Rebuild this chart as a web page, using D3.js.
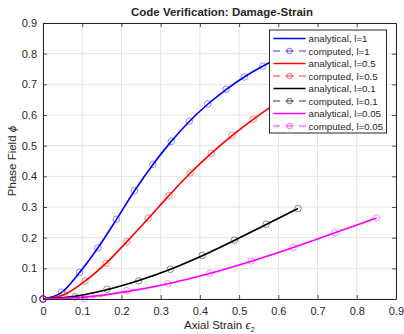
<!DOCTYPE html>
<html>
<head>
<meta charset="utf-8">
<script src="https://cdn.jsdelivr.net/npm/d3@7"></script>
<style>
    body { margin: 0; background: #fff; }
    text { font-family: "Liberation Sans", Arial, sans-serif; fill: #262626; }
</style>
</head>
<body>
<div id="chart"></div>
<script>
// strain (x) and phase field (y) for each length scale l
var strainL1 = [0, 0.047, 0.093, 0.14, 0.187, 0.233, 0.28, 0.327, 0.373, 0.42, 0.467, 0.513, 0.56, 0.607, 0.653, 0.7];
var computedL1 = [0, 0.022, 0.087, 0.166, 0.26, 0.353, 0.439, 0.514, 0.58, 0.636, 0.684, 0.724, 0.759, 0.79, 0.815, 0.84];
var analyticalL1 = [0, 0.021, 0.086, 0.167, 0.259, 0.352, 0.438, 0.514, 0.579, 0.635, 0.683, 0.724, 0.759, 0.79, 0.815, 0.84];

var strainL05 = [0, 0.054, 0.107, 0.161, 0.214, 0.268, 0.321, 0.375, 0.429, 0.482, 0.536, 0.589, 0.643, 0.696, 0.75];
var computedL05 = [0, 0.015, 0.059, 0.116, 0.187, 0.263, 0.337, 0.411, 0.475, 0.534, 0.586, 0.635, 0.68, 0.72, 0.755];
var analyticalL05 = [0, 0.014, 0.058, 0.117, 0.187, 0.262, 0.337, 0.41, 0.475, 0.533, 0.586, 0.634, 0.679, 0.719, 0.755];

var strainL01 = [0, 0.081, 0.163, 0.244, 0.325, 0.406, 0.488, 0.569, 0.65];
var computedL01 = [0, 0.007, 0.032, 0.059, 0.097, 0.142, 0.192, 0.244, 0.295];
var analyticalL01 = [0, 0.009, 0.03, 0.06, 0.097, 0.141, 0.191, 0.243, 0.295];

var strainL005 = [0, 0.106, 0.213, 0.319, 0.425, 0.531, 0.638, 0.744, 0.85];
var computedL005 = [0, 0.002, 0.027, 0.05, 0.084, 0.124, 0.168, 0.216, 0.264];
var analyticalL005 = [0, 0.006, 0.024, 0.05, 0.083, 0.123, 0.168, 0.216, 0.264];

var lengthScales = ["1", "0.5", "0.1", "0.05"];
var colors = ["#0000ff", "#ff0000", "#000000", "#ff00ff"];
var xTicks = [0, 0.1, 0.2, 0.3, 0.4, 0.5, 0.6, 0.7, 0.8, 0.9];
var yTicks = [0, 0.1, 0.2, 0.3, 0.4, 0.5, 0.6, 0.7, 0.8, 0.9];

var width = 404, height = 334;
var margin = {left: 43, right: 8, top: 23, bottom: 35};

var svg = d3.select("#chart").append("svg")
    .attr("width", width).attr("height", height);

var x = d3.scaleLinear().domain([0, 0.9]).range([margin.left, width - margin.right]);
var y = d3.scaleLinear().domain([0, 0.9]).range([height - margin.bottom, margin.top]);

// grid
svg.append("g").selectAll("line").data(xTicks).enter().append("line")
    .attr("x1", d => x(d)).attr("x2", d => x(d))
    .attr("y1", y(0)).attr("y2", y(0.9))
    .attr("stroke", "#e3e3e3").attr("stroke-width", 1);
svg.append("g").selectAll("line").data(yTicks).enter().append("line")
    .attr("y1", d => y(d)).attr("y2", d => y(d))
    .attr("x1", x(0)).attr("x2", x(0.9))
    .attr("stroke", "#e3e3e3").attr("stroke-width", 1);

var plot = svg.append("g");
var line = d3.line().x(d => x(d[0])).y(d => y(d[1])).curve(d3.curveMonotoneX);

var series = [
    {s: strainL1, a: analyticalL1, c: computedL1},
    {s: strainL05, a: analyticalL05, c: computedL05},
    {s: strainL01, a: analyticalL01, c: computedL01},
    {s: strainL005, a: analyticalL005, c: computedL005}
];

series.forEach(function (d, i) {
    plot.append("path")
        .datum(d.s.map((v, k) => [v, d.a[k]]))
        .attr("d", line)
        .attr("fill", "none").attr("stroke", colors[i]).attr("stroke-width", 1.6);
    var pts = d.s.map((v, k) => [v, d.c[k]]);
    plot.append("path")
        .datum(pts)
        .attr("d", line)
        .attr("fill", "none").attr("stroke", colors[i]).attr("stroke-width", 0.6)
        .attr("stroke-dasharray", "5,3");
    plot.append("g").selectAll("circle").data(pts).enter().append("circle")
        .attr("cx", p => x(p[0])).attr("cy", p => y(p[1])).attr("r", 3.3)
        .attr("fill", "none").attr("stroke", colors[i]).attr("stroke-width", 0.6)
        .attr("stroke-opacity", 0.75);
});

// axes (matlab style box, ticks inward)
var axisColor = "#262626";
var xAxis = d3.axisBottom(x).tickValues(xTicks).tickSizeInner(-4).tickSizeOuter(0)
    .tickPadding(8).tickFormat(d => d === 0 ? "0" : d3.format(".1f")(d));
var gx = svg.append("g").attr("transform", "translate(0," + y(0) + ")").call(xAxis);
var yAxis = d3.axisLeft(y).tickValues(yTicks).tickSizeInner(-4).tickSizeOuter(0)
    .tickPadding(6).tickFormat(d => d === 0 ? "0" : d3.format(".1f")(d));
var gy = svg.append("g").attr("transform", "translate(" + x(0) + ",0)").call(yAxis);
var gt = svg.append("g").attr("transform", "translate(0," + y(0.9) + ")")
    .call(d3.axisTop(x).tickValues(xTicks).tickSizeInner(-4).tickSizeOuter(0).tickFormat(""));
var gr = svg.append("g").attr("transform", "translate(" + x(0.9) + ",0)")
    .call(d3.axisRight(y).tickValues(yTicks).tickSizeInner(-4).tickSizeOuter(0).tickFormat(""));
[gx, gy, gt, gr].forEach(function (g) {
    g.selectAll(".domain").attr("stroke", axisColor).attr("stroke-width", 1);
    g.selectAll(".tick line").attr("stroke", axisColor).attr("stroke-width", 0.8);
    g.selectAll(".tick text").style("font-family", "Liberation Sans, Arial, sans-serif")
        .style("font-size", "11px").attr("fill", axisColor);
});

// title and labels
svg.append("text").attr("x", 222).attr("y", 16).attr("text-anchor", "middle")
    .style("font-size", "11.5px").style("font-weight", "bold").attr("fill", "#000")
    .text("Code Verification: Damage-Strain");

var xl = svg.append("text").attr("x", (x(0) + x(0.9)) / 2).attr("y", 329)
    .attr("text-anchor", "middle").style("font-size", "11.5px");
xl.append("tspan").text("Axial Strain ");
xl.append("tspan").style("font-style", "italic").text("\u03f5");
xl.append("tspan").attr("dy", 3).style("font-size", "8px").text("2");

var yl = svg.append("text").attr("transform", "translate(16," + (y(0) + y(0.9)) / 2 + ") rotate(-90)")
    .attr("text-anchor", "middle").style("font-size", "11.5px");
yl.append("tspan").text("Phase Field ");
yl.append("tspan").style("font-style", "italic").text("\u03d5");

// legend
var lg = svg.append("g").attr("transform", "translate(269.5,30)");
lg.append("rect").attr("width", 117).attr("height", 103)
    .attr("fill", "#fff").attr("stroke", axisColor).attr("stroke-width", 1);
var rowH = 12.5;
lengthScales.forEach(function (l, i) {
    var y1 = 8.5 + rowH * (2 * i);
    var y2 = y1 + rowH;
    lg.append("line").attr("x1", 4).attr("x2", 36).attr("y1", y1).attr("y2", y1)
        .attr("stroke", colors[i]).attr("stroke-width", 1.6);
    lg.append("text").attr("x", 39).attr("y", y1 + 3.5).style("font-size", "9.7px")
        .text("analytical, l=" + l);
    lg.append("line").attr("x1", 3.5).attr("x2", 36.5).attr("y1", y2).attr("y2", y2)
        .attr("stroke", colors[i]).attr("stroke-width", 0.8)
        .attr("stroke-dasharray", "7,5.5,8,5.5,7");
    lg.append("circle").attr("cx", 20).attr("cy", y2).attr("r", 2.8)
        .attr("fill", "none").attr("stroke", colors[i]).attr("stroke-width", 0.7)
        .attr("stroke-opacity", 0.8);
    lg.append("text").attr("x", 39).attr("y", y2 + 3.5).style("font-size", "9.7px")
        .text("computed, l=" + l);
});
</script>
</body>
</html>
